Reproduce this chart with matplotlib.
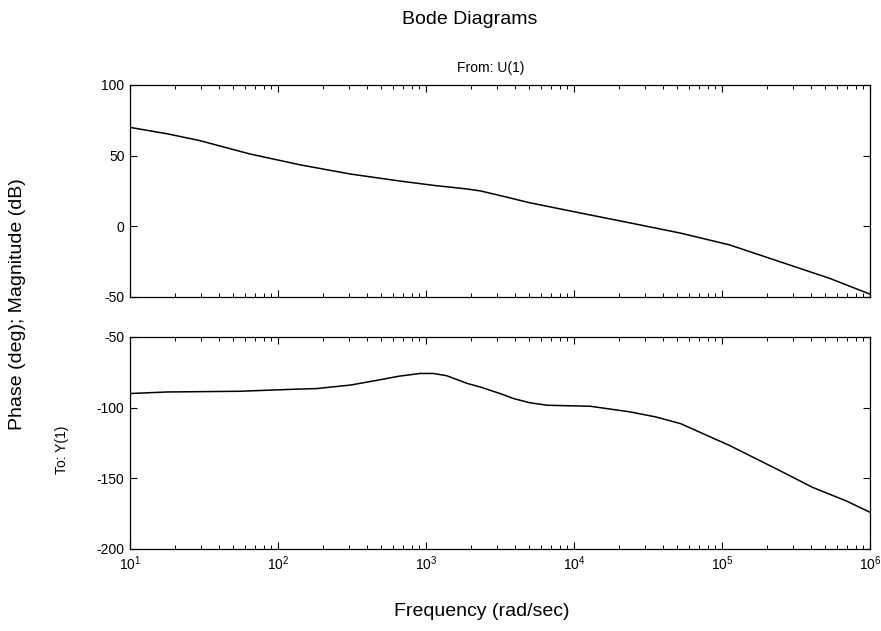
import numpy as np
import matplotlib.pyplot as plt
from matplotlib.ticker import LogLocator, NullFormatter

plt.rcParams["font.family"] = ["Liberation Sans", "DejaVu Sans"]
plt.rcParams["axes.unicode_minus"] = False

# magnitude curve (log10 of frequency, dB)
mag_logw = [1.0, 1.25, 1.47, 1.81, 2.15, 2.49, 2.82, 3.05, 3.28, 3.37, 3.5, 3.7,
            4.04, 4.38, 4.72, 5.05, 5.39, 5.73, 6.0]
mag_db = [70, 65.5, 60.7, 51.2, 43.5, 37.0, 32.1, 29.0, 26.4, 25.0, 21.8, 16.7,
          9.5, 2.4, -4.8, -13.1, -25.0, -36.9, -48.0]

# phase curve (log10 of frequency, deg)
ph_logw = [1.0, 1.25, 1.74, 2.1, 2.26, 2.49, 2.65, 2.82, 2.96, 3.05, 3.14, 3.28, 3.37,
           3.5, 3.59, 3.7, 3.82, 4.11, 4.38, 4.55, 4.72, 5.05, 5.39, 5.61, 5.84, 6.0]
ph_deg = [-90, -88.9, -88.4, -87, -86.5, -84, -81, -77.7, -75.8, -75.8, -77.4, -82.9,
          -85.5, -90, -93.5, -96.5, -98.3, -99, -103, -106.5, -111.3, -126.7, -144.5,
          -156.3, -166, -174]

mag_ticks = [100, 50, 0, -50]
ph_ticks = [-50, -100, -150, -200]

fig = plt.figure(figsize=(8.81, 6.31), dpi=100)
ax_mag = fig.add_axes([130 / 881, 1 - 297 / 631, 740 / 881, 212 / 631])
ax_ph = fig.add_axes([130 / 881, 1 - 549 / 631, 740 / 881, 212 / 631])

ax_mag.plot(10 ** np.array(mag_logw), mag_db, color="black", lw=1.1)
ax_ph.plot(10 ** np.array(ph_logw), ph_deg, color="black", lw=1.1)

ax_mag.set_ylim(-50, 100)
ax_ph.set_ylim(-200, -50)
ax_mag.set_yticks(mag_ticks)
ax_ph.set_yticks(ph_ticks)

for ax in (ax_mag, ax_ph):
    ax.set_xscale("log")
    ax.set_xlim(1e1, 1e6)
    ax.xaxis.set_major_locator(LogLocator(base=10, numticks=10))
    ax.xaxis.set_minor_locator(LogLocator(base=10, subs=np.arange(2, 10), numticks=20))
    ax.xaxis.set_minor_formatter(NullFormatter())
    ax.tick_params(which="both", direction="in", top=True, right=True,
                   labelsize=10, color="black", pad=4)
    ax.tick_params(which="major", length=5, width=0.8)
    ax.tick_params(which="minor", length=3, width=0.7)
    for sp in ax.spines.values():
        sp.set_linewidth(0.9)

ax_mag.tick_params(labelbottom=False)

fig.text(470 / 881, 1 - 20 / 631, "Bode Diagrams", ha="center", va="center", fontsize=14)
fig.text(491 / 881, 1 - 68 / 631, "From: U(1)", ha="center", va="center", fontsize=10)
fig.text(62 / 881, 1 - 450 / 631, "To: Y(1)", ha="center", va="center",
         rotation=90, fontsize=10)
fig.text(18 / 881, 1 - 304 / 631, "Phase (deg); Magnitude (dB)", ha="center",
         va="center", rotation=90, fontsize=14)
fig.text(482 / 881, 1 - 612 / 631, "Frequency (rad/sec)", ha="center", va="center",
         fontsize=14)

fig.savefig("out.png", dpi=100)
